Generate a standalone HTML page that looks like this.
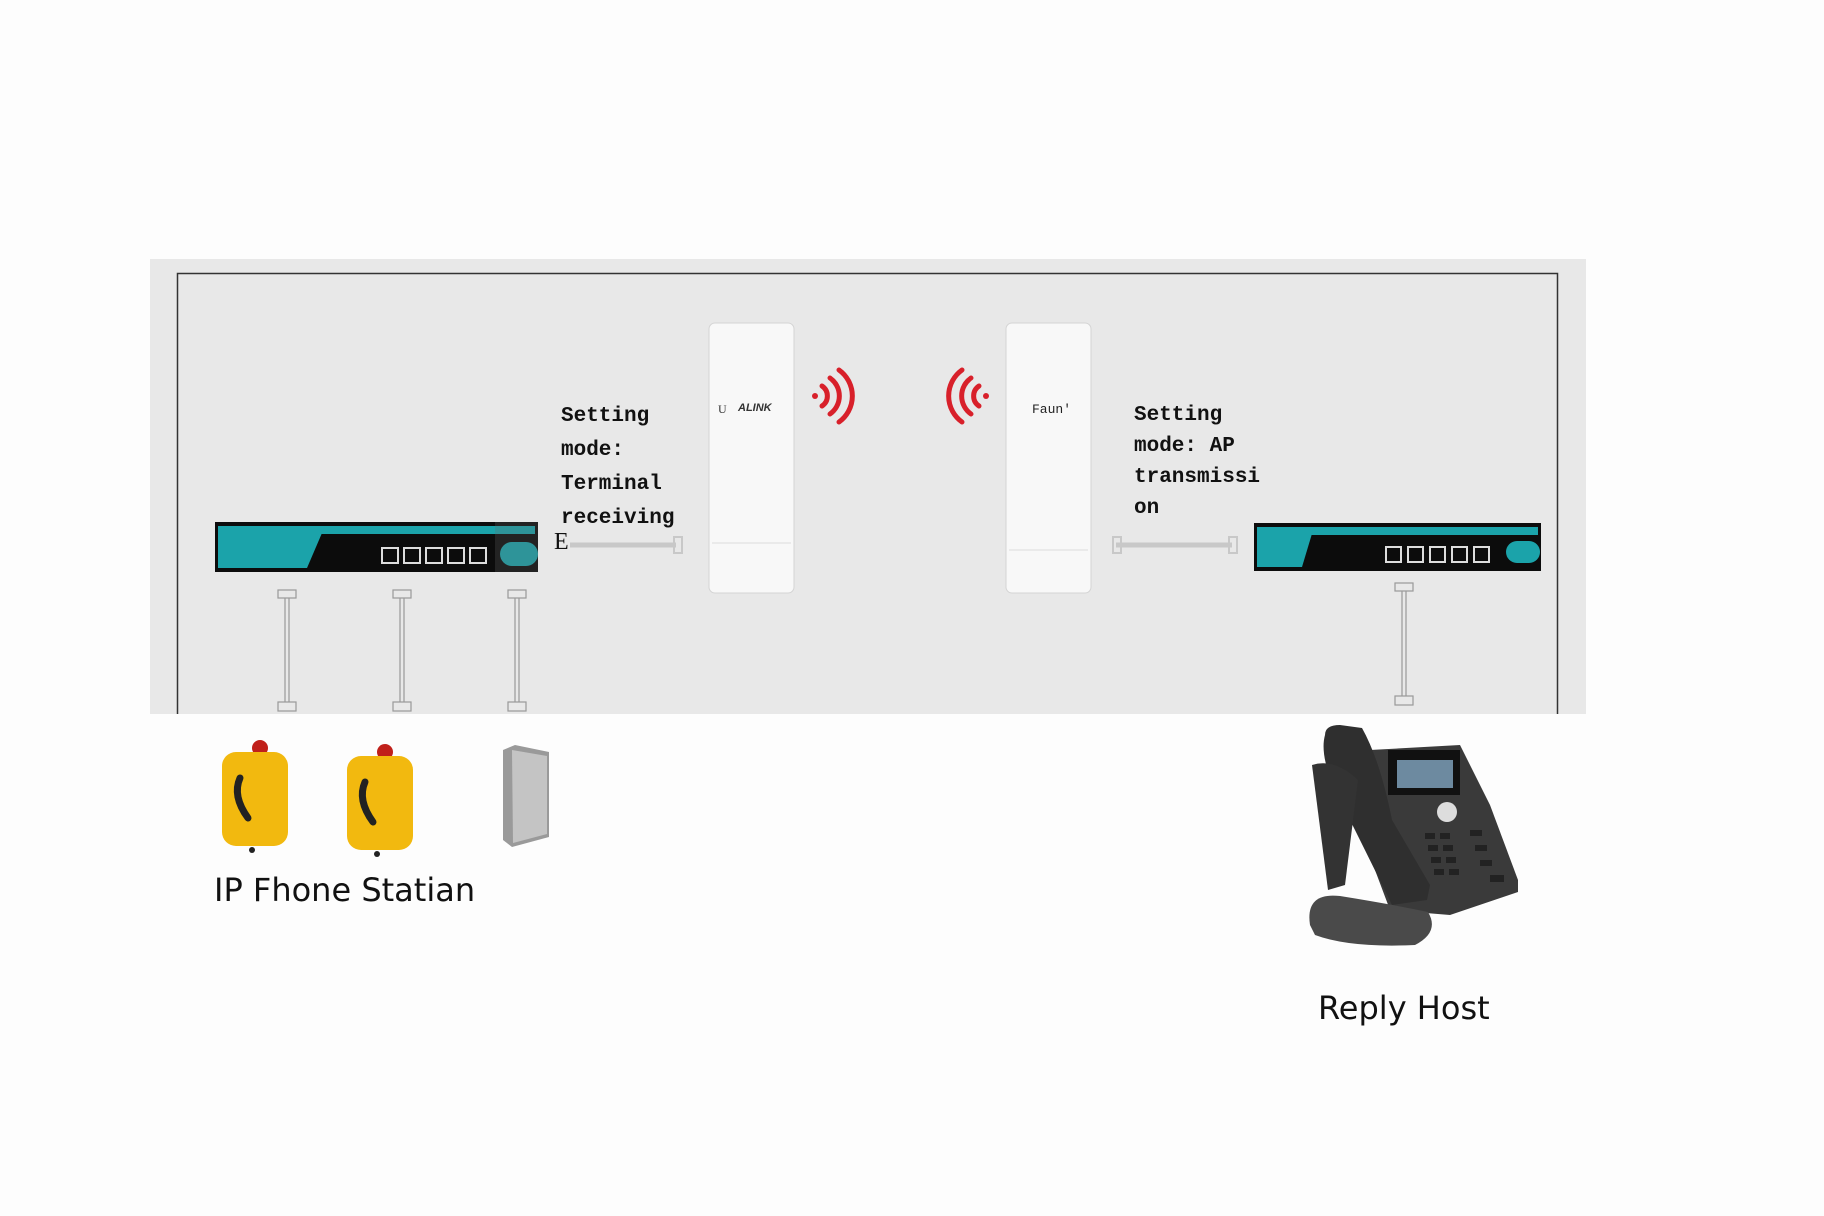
<!DOCTYPE html>
<html><head><meta charset="utf-8"><style>
html,body{margin:0;padding:0;background:#fdfdfd;}
body{width:1824px;height:1216px;overflow:hidden;position:relative;}
.t{position:absolute;font-family:"Liberation Mono",monospace;font-weight:bold;font-size:21px;color:#111;white-space:pre;}
.s{position:absolute;font-family:"DejaVu Sans","Liberation Sans",sans-serif;color:#111;white-space:nowrap;}
</style></head><body>
<svg width="1824" height="1216" style="position:absolute;left:0;top:0">
<rect x="150" y="259" width="1436" height="455" fill="#e8e8e8"/>
<path d="M177.5 714 V273.5 H1557.5 V714" fill="none" stroke="#333" stroke-width="1.5"/>
<!-- left switch -->
<g transform="translate(215,522)">
<rect width="323" height="50" fill="#0c0c0c"/>
<rect x="3" y="4" width="317" height="8" fill="#1ba3aa"/>
<polygon points="3,4 110,4 92,46 3,46" fill="#1ba3aa"/>
<g fill="none" stroke="#ddd" stroke-width="2"><rect x="167" y="26" width="16" height="15"/><rect x="189" y="26" width="16" height="15"/><rect x="211" y="26" width="16" height="15"/><rect x="233" y="26" width="16" height="15"/><rect x="255" y="26" width="16" height="15"/></g>
<rect x="285" y="20" width="38" height="24" rx="12" fill="#1ba3aa"/>
<rect x="280" y="0" width="43" height="50" fill="#666" opacity="0.25"/>
</g>
<!-- right switch -->
<g transform="translate(1254,523)">
<rect width="287" height="48" fill="#0c0c0c"/>
<rect x="3" y="4" width="281" height="8" fill="#1ba3aa"/>
<polygon points="3,4 60,4 48,44 3,44" fill="#1ba3aa"/>
<g fill="none" stroke="#ddd" stroke-width="2"><rect x="132" y="24" width="15" height="15"/><rect x="154" y="24" width="15" height="15"/><rect x="176" y="24" width="15" height="15"/><rect x="198" y="24" width="15" height="15"/><rect x="220" y="24" width="15" height="15"/></g>
<rect x="252" y="18" width="34" height="22" rx="11" fill="#1ba3aa"/>
</g>
<!-- CPEs -->
<g>
<rect x="709" y="323" width="85" height="270" rx="6" fill="#f8f8f8" stroke="#d4d4d4"/>
<line x1="712" y1="543" x2="791" y2="543" stroke="#ddd"/>
<rect x="1006" y="323" width="85" height="270" rx="6" fill="#f8f8f8" stroke="#d4d4d4"/>
<line x1="1009" y1="550" x2="1088" y2="550" stroke="#ddd"/>
</g>
<text x="718" y="413" font-family="Liberation Serif,serif" font-size="12" fill="#333">U</text>
<text x="738" y="411" font-family="Liberation Sans,sans-serif" font-size="11" font-weight="bold" font-style="italic" fill="#333">ALINK</text>
<text x="1032" y="413" font-family="Liberation Mono,monospace" font-size="13" fill="#222">Faun'</text>
<!-- wifi -->
<g fill="none" stroke="#d8202a" stroke-width="5" stroke-linecap="round">
<circle cx="815" cy="396" r="3" fill="#d8202a" stroke="none"/>
<path d="M822 386 A12 12 0 0 1 822 406"/><path d="M830 378 A22 22 0 0 1 830 414"/><path d="M839 370 A32 32 0 0 1 839 422"/>
<circle cx="986" cy="396" r="3" fill="#d8202a" stroke="none"/>
<path d="M979 386 A12 12 0 0 0 979 406"/><path d="M971 378 A22 22 0 0 0 971 414"/><path d="M962 370 A32 32 0 0 0 962 422"/>
</g>
<!-- horizontal cables -->
<g stroke="#c8c8c8" fill="none">
<line x1="570" y1="545" x2="676" y2="545" stroke-width="5"/>
<rect x="674" y="537" width="8" height="16" stroke-width="2"/>
<line x1="1116" y1="545" x2="1232" y2="545" stroke-width="5"/>
<rect x="1113" y="537" width="8" height="16" stroke-width="2"/>
<rect x="1229" y="537" width="8" height="16" stroke-width="2"/>
</g>
<!-- vertical cables -->
<g stroke="#999" fill="none" stroke-width="1.2">
<rect x="278" y="590" width="18" height="8"/><line x1="285" y1="598" x2="285" y2="702"/><line x1="289" y1="598" x2="289" y2="702"/><rect x="278" y="702" width="18" height="9"/>
<rect x="393" y="590" width="18" height="8"/><line x1="400" y1="598" x2="400" y2="702"/><line x1="404" y1="598" x2="404" y2="702"/><rect x="393" y="702" width="18" height="9"/>
<rect x="508" y="590" width="18" height="8"/><line x1="515" y1="598" x2="515" y2="702"/><line x1="519" y1="598" x2="519" y2="702"/><rect x="508" y="702" width="18" height="9"/>
<rect x="1395" y="583" width="18" height="8"/><line x1="1402" y1="591" x2="1402" y2="696"/><line x1="1406" y1="591" x2="1406" y2="696"/><rect x="1395" y="696" width="18" height="9"/>
</g>
<!-- yellow phones -->
<g>
<circle cx="260" cy="748" r="8" fill="#c0201a"/>
<rect x="222" y="752" width="66" height="94" rx="14" fill="#f2b90f"/>
<path d="M240 778 q-8 18 8 40" stroke="#222" stroke-width="7" fill="none" stroke-linecap="round"/>
<circle cx="252" cy="850" r="3" fill="#222"/>
<circle cx="385" cy="752" r="8" fill="#c0201a"/>
<rect x="347" y="756" width="66" height="94" rx="14" fill="#f2b90f"/>
<path d="M365 782 q-8 18 8 40" stroke="#222" stroke-width="7" fill="none" stroke-linecap="round"/>
<circle cx="377" cy="854" r="3" fill="#222"/>
<polygon points="503,750 515,745 549,752 549,837 512,847 503,840" fill="#9a9a9a"/>
<polygon points="512,750 547,756 547,834 513,843" fill="#c4c4c4"/>
</g>
<!-- desk phone -->
<g transform="translate(1300,720)">
<polygon points="70,30 160,25 190,85 218,160 218,172 150,195 90,190 75,150" fill="#3a3a3a"/>
<rect x="88" y="30" width="72" height="45" fill="#111"/>
<rect x="97" y="40" width="56" height="28" fill="#6d8aa0"/>
<circle cx="147" cy="92" r="10" fill="#ddd"/>
<g fill="#222"><rect x="125" y="113" width="10" height="6"/><rect x="140" y="113" width="10" height="6"/><rect x="128" y="125" width="10" height="6"/><rect x="143" y="125" width="10" height="6"/><rect x="131" y="137" width="10" height="6"/><rect x="146" y="137" width="10" height="6"/><rect x="134" y="149" width="10" height="6"/><rect x="149" y="149" width="10" height="6"/><rect x="170" y="110" width="12" height="6"/><rect x="175" y="125" width="12" height="6"/><rect x="180" y="140" width="12" height="6"/><rect x="190" y="155" width="14" height="7"/></g>
<path d="M25 15 Q25 5 40 5 L62 8 Q80 40 92 100 L130 165 L127 180 L92 185 Q70 140 45 90 Q18 40 25 15 Z" fill="#2f2f2f"/>
<path d="M12 45 Q35 38 58 60 L45 165 L28 170 Z" fill="#333"/>
<path d="M10 205 Q5 172 40 176 Q90 184 128 192 Q140 212 115 225 Q50 228 15 215 Z" fill="#4a4a4a"/>
</g>
</svg>
<div class="t" style="left:561px;top:400px;line-height:34px">Setting
mode:
Terminal
receiving</div>
<div class="t" style="left:1134px;top:400px;line-height:31px">Setting
mode: AP
transmissi
on</div>
<div class="s" style="left:554px;top:529px;font-family:'Liberation Serif',serif;font-size:24px">E</div>
<div class="s" style="left:214px;top:871px;font-size:32px">IP Fhone Statian</div>
<div class="s" style="left:1318px;top:989px;font-size:32px">Reply Host</div>
</body></html>
